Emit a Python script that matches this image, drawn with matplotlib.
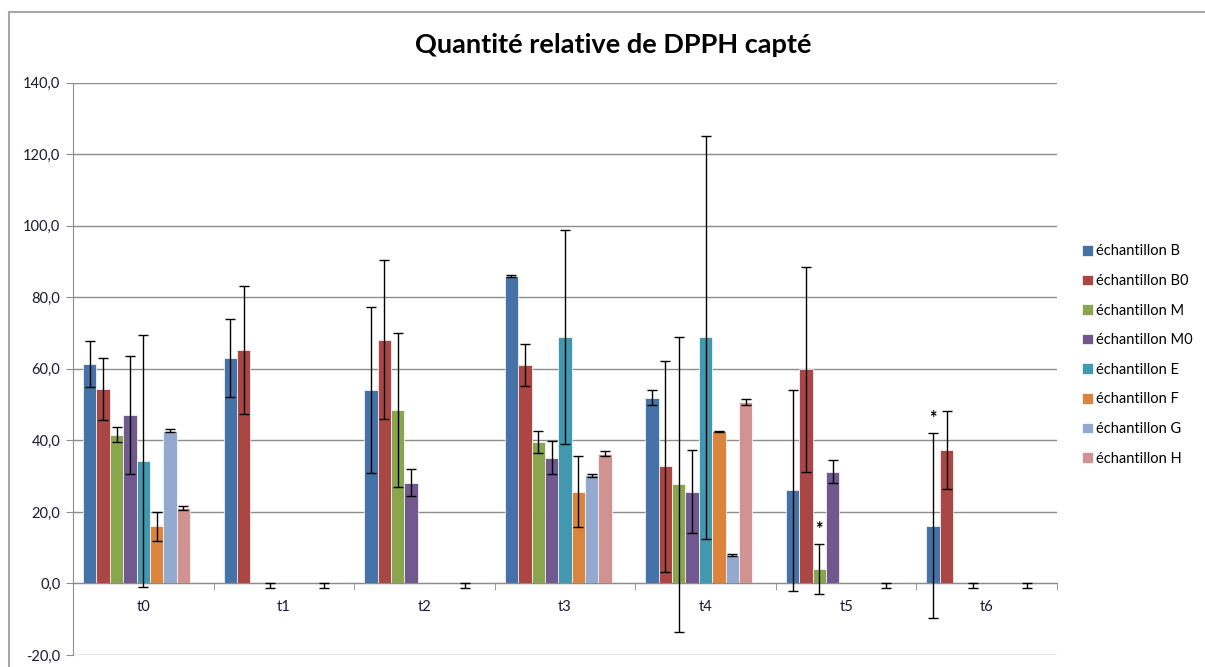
import matplotlib.pyplot as plt
import numpy as np
from matplotlib.patches import Rectangle
from matplotlib.ticker import FuncFormatter, MultipleLocator

plt.rcParams['font.family'] = ['Lato', 'DejaVu Sans']

temps = ['t0', 't1', 't2', 't3', 't4', 't5', 't6']
echantillons = ['échantillon B', 'échantillon B0', 'échantillon M', 'échantillon M0',
                'échantillon E', 'échantillon F', 'échantillon G', 'échantillon H']
couleurs = ['#4572A7', '#AA4643', '#89A54E', '#71588F',
            '#4198AF', '#DB843D', '#93A9CF', '#D19392']

nan = np.nan
# mean values per sample, one entry per time point (nan = not measured)
moy_B  = [61.4, 63.1, 54.0, 86.0, 51.9, 26.0, 16.2]
moy_B0 = [54.3, 65.3, 68.2, 61.0, 32.7, 59.9, 37.4]
moy_M  = [41.6, nan, 48.6, 39.5, 27.7, 4.0, nan]
moy_M0 = [47.2, 0.0, 28.2, 35.2, 25.6, 31.3, 0.0]
moy_E  = [34.2, nan, nan, 68.8, 68.8, nan, nan]
moy_F  = [16.0, nan, nan, 25.7, 42.5, nan, nan]
moy_G  = [42.7, nan, nan, 30.2, 8.0, nan, nan]
moy_H  = [21.1, 0.0, 0.0, 36.3, 50.8, 0.0, 0.0]

# standard deviations
et_B  = [6.4, 10.9, 23.2, 0.2, 2.1, 28.2, 25.9]
et_B0 = [8.7, 18.0, 22.1, 5.9, 29.4, 28.7, 10.9]
et_M  = [2.1, nan, 21.5, 3.1, 41.3, 7.0, nan]
et_M0 = [16.5, 1.2, 3.7, 4.6, 11.6, 3.1, 1.2]
et_E  = [35.2, nan, nan, 29.9, 56.3, nan, nan]
et_F  = [4.1, nan, nan, 9.9, 0.2, nan, nan]
et_G  = [0.4, nan, nan, 0.3, 0.2, nan, nan]
et_H  = [0.6, 1.2, 1.2, 0.6, 0.8, 1.2, 1.2]

moyennes = [moy_B, moy_B0, moy_M, moy_M0, moy_E, moy_F, moy_G, moy_H]
ecarts = [et_B, et_B0, et_M, et_M0, et_E, et_F, et_G, et_H]

# significance stars: (time index, sample index, height)
etoiles = [(5, 2, 15.0), (6, 0, 46.0)]

fig = plt.figure(figsize=(12.05, 6.67), dpi=100)
ax = fig.add_axes([73 / 1205, 12 / 667, (1057 - 73) / 1205, (655 - 82.7) / 667])

x = np.arange(len(temps))
n_slots = 9
width = 1 / (n_slots + 1.5)

for i, (moy, et) in enumerate(zip(moyennes, ecarts)):
    moy = np.array(moy, dtype=float)
    et = np.array(et, dtype=float)
    pos = x + (i - (n_slots - 1) / 2) * width
    ax.bar(pos, moy, width, color=couleurs[i], edgecolor='white', linewidth=0.5,
           label=echantillons[i], zorder=2)
    # zero-valued points only show the lower half of their error bar
    haut = np.where(moy == 0, 0, et)
    ax.errorbar(pos, moy, yerr=[et, haut], fmt='none', ecolor='black',
                elinewidth=1, capsize=3.5, capthick=1, zorder=3)

for t, s, h in etoiles:
    ax.text(t + (s - (n_slots - 1) / 2) * width, h, '*', ha='center', va='center',
            fontsize=13, fontweight='bold', color='black', zorder=4)

ax.set_xlim(-0.5, len(temps) - 0.5)
ax.set_ylim(-20, 140)
ax.yaxis.set_major_locator(MultipleLocator(20))
ax.yaxis.set_major_formatter(FuncFormatter(lambda v, p: f'{v:.1f}'.replace('.', ',')))
ax.grid(axis='y', color='#8c8c8c', linewidth=1, zorder=0)
ax.set_axisbelow(True)

ax.spines['top'].set_visible(False)
ax.spines['right'].set_visible(False)
ax.spines['left'].set_color('#8c8c8c')
ax.spines['bottom'].set_color('#8c8c8c')
ax.spines['bottom'].set_position(('data', 0))

ax.set_xticks(x)
ax.set_xticklabels(temps)
ax.set_xticks(np.arange(len(temps) + 1) - 0.5, minor=True)
ax.tick_params(axis='x', which='major', length=0, pad=12, labelsize=10.5, labelcolor='#1a1a2e')
ax.tick_params(axis='x', which='minor', length=5, color='#8c8c8c', direction='out')
ax.tick_params(axis='y', length=5, color='#8c8c8c', pad=4, labelsize=10.5, labelcolor='#1a1a2e')

fig.text(613 / 1205, 1 - 45 / 667, 'Quantité relative de DPPH capté', ha='center', va='center',
         fontsize=19.5, fontweight='bold', color='black')

fig.legend(loc='center left', bbox_to_anchor=(1076 / 1205, 1 - 355 / 667), frameon=False,
           fontsize=10.5, labelspacing=1.07, handlelength=0.75, handleheight=0.75,
           handletextpad=0.2, borderaxespad=0)

fig.patches.append(Rectangle((9 / 1205, -0.1), 1.2, 1.1 - 12 / 667, transform=fig.transFigure,
                             fill=False, edgecolor='#a6a6a6', linewidth=1.5))

fig.savefig('out.png', dpi=100)
